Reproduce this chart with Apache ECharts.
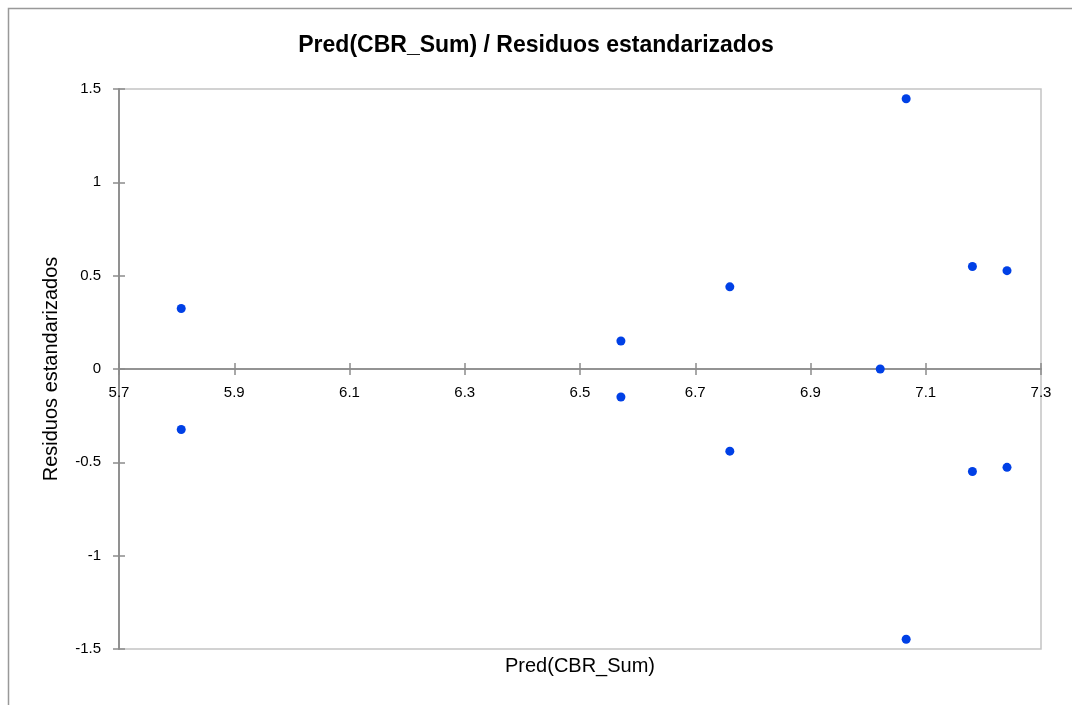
<!DOCTYPE html>
<html>
<head>
<meta charset="utf-8">
<script src="https://cdn.jsdelivr.net/npm/echarts@6/dist/echarts.min.js"></script>
<style>
html,body{margin:0;padding:0;background:#fff;}
#chart{width:1072px;height:705px;}
</style>
</head>
<body>
<div id="chart"></div>
<script>
// Data
const predValues = [5.808, 5.808, 6.571, 6.571, 6.760, 6.760, 7.021, 7.066, 7.066, 7.181, 7.181, 7.241, 7.241];
const residValues = [0.324, -0.324, 0.150, -0.150, 0.440, -0.440, 0.0, 1.448, -1.448, 0.549, -0.549, 0.527, -0.527];
const xTickLabels = [5.7, 5.9, 6.1, 6.3, 6.5, 6.7, 6.9, 7.1, 7.3];
const yTickLabels = [-1.5, -1, -0.5, 0, 0.5, 1, 1.5];
const titleText = 'Pred(CBR_Sum) / Residuos estandarizados';
const xName = 'Pred(CBR_Sum)';
const yName = 'Residuos estandarizados';

const points = predValues.map((x, i) => [x, residValues[i]]);
const font = 'Liberation Sans, Arial, sans-serif';
const xLabelSet = new Set(xTickLabels.map(v => Math.round(v * 10)));

const W = 1072, H = 705;
const gridTop = 89, gridBottom = 56;
const yMin = -1.5, yMax = 1.5;
const plotH = H - gridTop - gridBottom;
// move x axis up to y = 0 (layout offset)
const zeroOffset = -plotH * (0 - yMin) / (yMax - yMin);
const axisGray = '#8c8c8c';

const chart = echarts.init(document.getElementById('chart'), null, {renderer: 'canvas'});
chart.setOption({
  backgroundColor: '#fff',
  animation: false,
  title: {
    text: titleText,
    left: 'center',
    top: 29,
    textStyle: {fontFamily: font, fontSize: 23, fontWeight: 'bold', color: '#000'}
  },
  grid: {
    left: 119, right: 31, top: gridTop, bottom: gridBottom,
    show: true, borderColor: '#c4c4c4', borderWidth: 1.5
  },
  xAxis: [{
    type: 'value', min: 5.7, max: 7.3, interval: 0.1, position: 'bottom', offset: zeroOffset,
    axisLine: {onZero: false, lineStyle: {color: axisGray, width: 1.5}},
    axisTick: {show: true, length: 6, customValues: xTickLabels, lineStyle: {color: axisGray, width: 1.5}},
    axisLabel: {margin: 16, fontFamily: font, fontSize: 15, color: '#000', hideOverlap: false,
      formatter: v => xLabelSet.has(Math.round(v * 10)) ? String(Math.round(v * 10) / 10) : ''},
    splitLine: {show: false}
  }, {
    type: 'value', min: 5.7, max: 7.3, position: 'bottom', offset: zeroOffset,
    axisLine: {onZero: false, show: true, lineStyle: {color: axisGray, width: 1.5}},
    axisTick: {show: true, inside: true, length: 6, customValues: xTickLabels, lineStyle: {color: axisGray, width: 1.5}},
    axisLabel: {show: false},
    splitLine: {show: false}
  }],
  yAxis: [{
    type: 'value', min: yMin, max: yMax, interval: 0.5,
    axisLine: {show: true, onZero: false, lineStyle: {color: axisGray, width: 1.5}},
    axisTick: {show: true, length: 6, customValues: yTickLabels, lineStyle: {color: axisGray, width: 1.5}},
    axisLabel: {margin: 18, fontFamily: font, fontSize: 15, color: '#000',
      formatter: v => String(Math.round(v * 10) / 10)},
    splitLine: {show: false},
    name: yName, nameLocation: 'middle', nameGap: 58,
    nameTextStyle: {fontFamily: font, fontSize: 20, color: '#000'}
  }, {
    type: 'value', min: yMin, max: yMax, interval: 0.5, position: 'left', offset: 0,
    axisLine: {show: true, onZero: false, lineStyle: {color: axisGray, width: 1.5}},
    axisTick: {show: true, inside: true, length: 6, customValues: yTickLabels, lineStyle: {color: axisGray, width: 1.5}},
    axisLabel: {show: false},
    splitLine: {show: false}
  }],
  graphic: [{
    type: 'rect', left: 6, top: 6, silent: true,
    shape: {width: 1100, height: 720},
    style: {fill: 'none', stroke: '#999', lineWidth: 1.5}
  }, {
    type: 'text', x: 580, y: 656,
    style: {text: xName, fontFamily: font, fontSize: 20, fill: '#000', align: 'center', verticalAlign: 'top'}
  }],
  series: [{
    type: 'scatter',
    xAxisIndex: 0, yAxisIndex: 0,
    data: points,
    symbol: 'circle',
    symbolSize: 9,
    itemStyle: {color: '#0040e6', opacity: 1}
  }]
});
</script>
</body>
</html>
